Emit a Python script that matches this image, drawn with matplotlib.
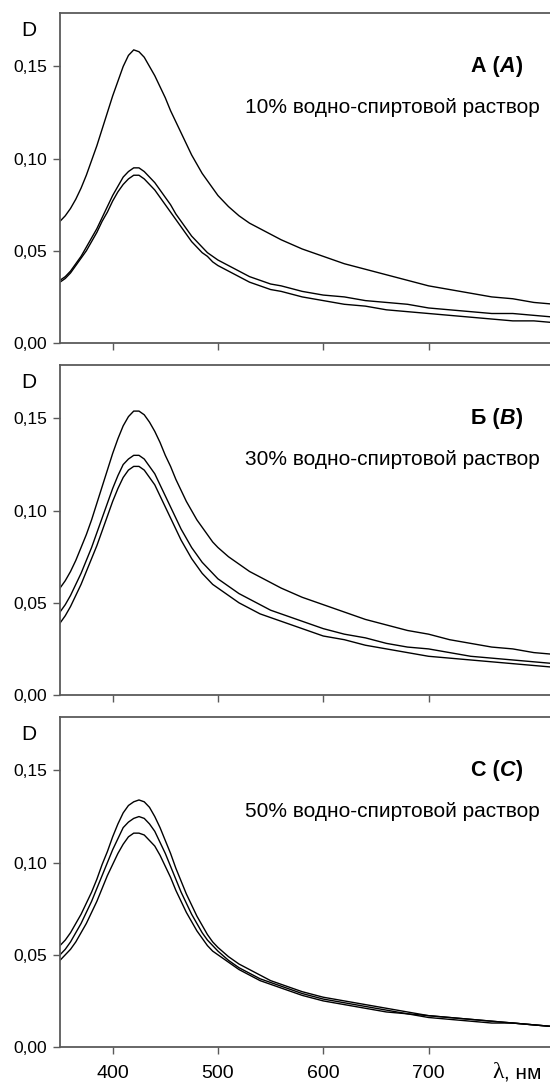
import numpy as np
import matplotlib.pyplot as plt
from matplotlib.ticker import FixedLocator, FuncFormatter

plt.rcParams['font.family'] = ['Liberation Sans', 'DejaVu Sans']

# длины волн, нм
wl = [350, 355, 360, 365, 370, 375, 380, 385, 390, 395, 400, 405, 410, 415, 420, 425,
      430, 435, 440, 445, 450, 455, 460, 465, 470, 475, 480, 485, 490, 495, 500,
      510, 520, 530, 540, 550, 560, 580, 600, 620, 640, 660, 680, 700, 720, 740,
      760, 780, 800, 820]

# 10% водно-спиртовой раствор
a_top = [.066, .069, .073, .078, .084, .091, .099, .107, .116, .125, .134, .142, .150, .156, .159, .158,
         .155, .150, .145, .139, .133, .126, .120, .114, .108, .102, .097, .092, .088, .084, .080,
         .074, .069, .065, .062, .059, .056, .051, .047, .043, .040, .037, .034, .031, .029, .027,
         .025, .024, .022, .021]
a_mid = [.034, .036, .039, .043, .047, .052, .057, .062, .068, .074, .080, .085, .090, .093, .095, .095,
         .093, .090, .087, .083, .079, .075, .070, .066, .062, .058, .055, .052, .049, .047, .045,
         .042, .039, .036, .034, .032, .031, .028, .026, .025, .023, .022, .021, .019, .018, .017,
         .016, .016, .015, .014]
a_bot = [.033, .035, .038, .042, .046, .050, .055, .060, .066, .071, .077, .082, .086, .089, .091, .091,
         .089, .086, .083, .079, .075, .071, .067, .063, .059, .055, .052, .049, .047, .044, .042,
         .039, .036, .033, .031, .029, .028, .025, .023, .021, .020, .018, .017, .016, .015, .014,
         .013, .012, .012, .011]

# 30% водно-спиртовой раствор
b_top = [.058, .062, .067, .073, .080, .087, .095, .104, .113, .122, .131, .139, .146, .151, .154, .154,
         .152, .148, .143, .137, .130, .124, .117, .111, .105, .100, .095, .091, .087, .083, .080,
         .075, .071, .067, .064, .061, .058, .053, .049, .045, .041, .038, .035, .033, .030, .028,
         .026, .025, .023, .022]
b_mid = [.045, .049, .054, .060, .066, .073, .080, .088, .096, .104, .112, .119, .125, .128, .130, .130,
         .128, .124, .120, .114, .108, .102, .096, .090, .085, .080, .076, .072, .069, .066, .063,
         .059, .055, .052, .049, .046, .044, .040, .036, .033, .031, .028, .026, .025, .023, .021,
         .020, .019, .018, .017]
b_bot = [.039, .043, .048, .054, .060, .067, .074, .081, .089, .097, .105, .112, .118, .122, .124, .124,
         .122, .118, .114, .108, .102, .096, .090, .084, .079, .074, .070, .066, .063, .060, .058,
         .054, .050, .047, .044, .042, .040, .036, .032, .030, .027, .025, .023, .021, .020, .019,
         .018, .017, .016, .015]

# 50% водно-спиртовой раствор
c_top = [.055, .058, .062, .067, .072, .078, .084, .091, .099, .106, .114, .121, .127, .131, .133, .134,
         .133, .130, .125, .119, .112, .105, .097, .090, .083, .077, .071, .066, .061, .057, .054,
         .049, .045, .042, .039, .036, .034, .030, .027, .025, .023, .021, .019, .017, .016, .015,
         .014, .013, .012, .011]
c_mid = [.050, .053, .057, .062, .067, .073, .079, .086, .093, .100, .107, .113, .119, .122, .124, .125,
         .124, .121, .117, .111, .105, .098, .091, .084, .078, .072, .067, .062, .058, .055, .052,
         .047, .043, .040, .037, .035, .033, .029, .026, .024, .022, .020, .018, .017, .016, .015,
         .014, .013, .012, .011]
c_bot = [.047, .050, .053, .057, .062, .067, .073, .079, .086, .093, .099, .105, .110, .114, .116, .116,
         .115, .112, .109, .104, .098, .092, .085, .079, .073, .068, .063, .059, .055, .052, .050,
         .046, .042, .039, .036, .034, .032, .028, .025, .023, .021, .019, .018, .016, .015, .014,
         .013, .013, .012, .011]

panels = [
    (("А (", "А", ")"), "10% водно-спиртовой раствор", [a_top, a_mid, a_bot]),
    (("Б (", "В", ")"), "30% водно-спиртовой раствор", [b_top, b_mid, b_bot]),
    (("С (", "С", ")"), "50% водно-спиртовой раствор", [c_top, c_mid, c_bot]),
]

x_ticks = [400, 500, 600, 700]
y_ticks = [0.0, 0.05, 0.10, 0.15]

W, H = 550, 1083
fig = plt.figure(figsize=(W / 100, H / 100), dpi=100)

tops = [13, 365, 717]
ax_h = 330
left_px = 60
x0, x1 = 350, 850
px_per_nm = 1.053
ax_w = (x1 - x0) * px_per_nm

spine_col = '#5a5a5a'

for i, (tag, caption, curves) in enumerate(panels):
    top = tops[i]
    ax = fig.add_axes([left_px / W, 1 - (top + ax_h) / H, ax_w / W, ax_h / H])
    for y in curves:
        ax.plot(wl, y, color='black', lw=1.0)
    ax.set_xlim(x0, x1)
    ax.set_ylim(0, 0.179)
    ax.xaxis.set_major_locator(FixedLocator(x_ticks))
    ax.yaxis.set_major_locator(FixedLocator(y_ticks))
    ax.yaxis.set_major_formatter(FuncFormatter(lambda v, p: f"{v:.2f}".replace('.', ',')))
    for s in ax.spines.values():
        s.set_color(spine_col)
        s.set_linewidth(1.3)
    ax.tick_params(direction='out', length=5, width=1.0, color=spine_col,
                   labelsize=12.5, pad=4)
    if i < 2:
        ax.tick_params(axis='x', labelbottom=False)
    else:
        ax.tick_params(axis='x', pad=8, labelsize=14)

    # D над осью
    fig.text(29 / W, 1 - (top + 18) / H, "D", fontsize=15, ha='center', va='center')

    # подпись панели: прямой текст + жирный курсив в скобках
    inv = ax.transData.inverted()
    t1 = ax.text(789, 0.150, tag[2], fontsize=15.5, fontweight='bold', ha='right', va='center')
    fig.canvas.draw()
    xa = inv.transform((t1.get_window_extent().x0, 0))[0]
    t2 = ax.text(xa, 0.150, tag[1], fontsize=15.5, fontweight='bold', style='italic',
                 ha='right', va='center')
    fig.canvas.draw()
    xb = inv.transform((t2.get_window_extent().x0, 0))[0]
    ax.text(xb, 0.150, tag[0], fontsize=15.5, fontweight='bold', ha='right', va='center')

    ax.text(806, 0.128, caption, fontsize=15, ha='right', va='center')

lam = fig.text(492 / W, 1 - 1073 / H, "λ", fontsize=17, ha='left', va='center',
               family=['Liberation Serif', 'DejaVu Serif'])
fig.canvas.draw()
lx = fig.transFigure.inverted().transform((lam.get_window_extent().x1, 0))[0]
fig.text(lx, 1 - 1073 / H, ", нм", fontsize=15, ha='left', va='center')

fig.savefig("out.png", dpi=100)
